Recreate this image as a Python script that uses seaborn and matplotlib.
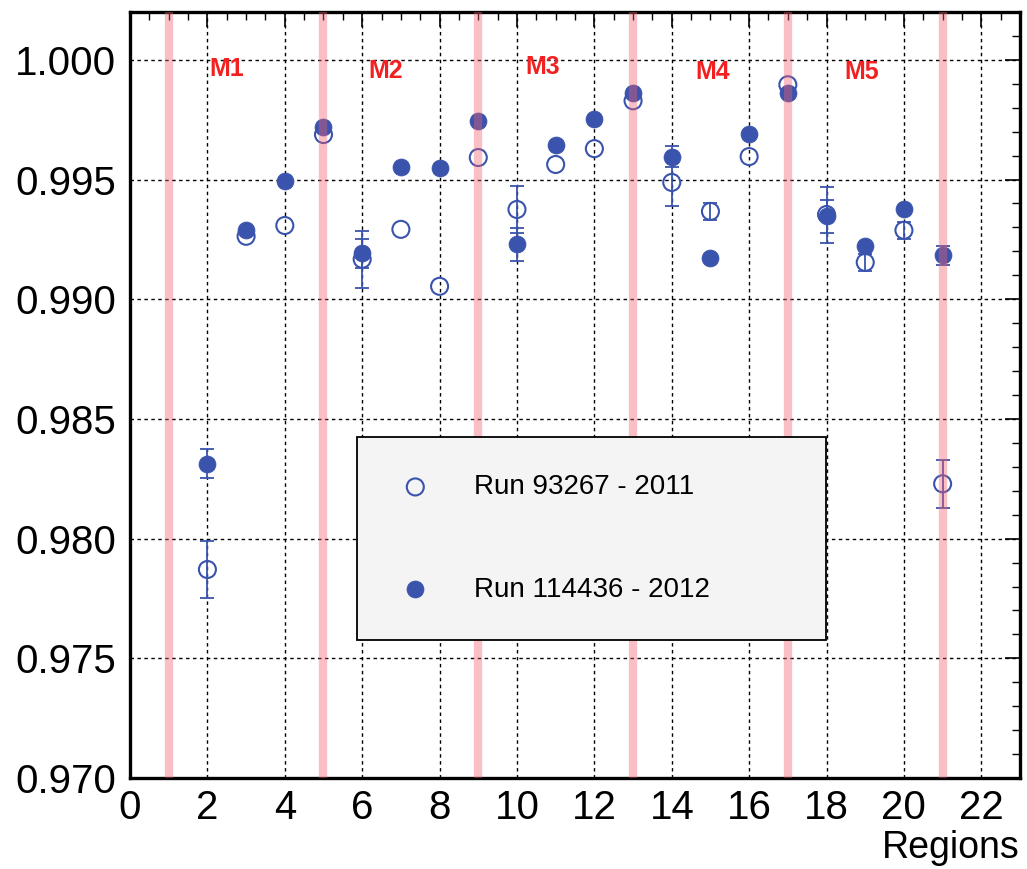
import matplotlib
matplotlib.use("Agg")
import matplotlib.pyplot as plt
from matplotlib.ticker import MultipleLocator, FormatStrFormatter
import seaborn as sns
import pandas as pd
import numpy as np

# ---------------- data ----------------
regions = [2, 3, 4, 5, 6, 7, 8, 9, 10, 11, 12, 13, 14, 15, 16, 17, 18, 19, 20, 21]
eff_2011 = [0.97871, 0.99263, 0.99308, 0.99688, 0.99167, 0.99292, 0.99054, 0.99592,
            0.99375, 0.99563, 0.99629, 0.99829, 0.99488, 0.99367, 0.99596, 0.99896,
            0.99354, 0.99154, 0.99288, 0.98229]
err_2011 = [0.0012, 0.0, 0.0, 0.0, 0.0012, 0.0, 0.0, 0.0,
            0.0010, 0.0, 0.0, 0.0, 0.0010, 0.00035, 0.0, 0.0,
            0.00117, 0.00035, 0.00035, 0.0010]
eff_2012 = [0.98313, 0.99288, 0.99492, 0.99721, 0.99192, 0.99554, 0.99550, 0.99746,
            0.99229, 0.99646, 0.99754, 0.99863, 0.99596, 0.99171, 0.99692, 0.99863,
            0.99346, 0.99221, 0.99379, 0.99183]
err_2012 = [0.0006, 0.0, 0.0, 0.0, 0.0006, 0.0, 0.0, 0.0,
            0.0007, 0.0, 0.0, 0.0, 0.00045, 0.0, 0.0, 0.0,
            0.0007, 0.0, 0.0, 0.0004]
label_2011 = "Run 93267 - 2011"
label_2012 = "Run 114436 - 2012"

module_boundaries = [1, 5, 9, 13, 17, 21]
module_names = ["M1", "M2", "M3", "M4", "M5"]
module_label_x = [2.5, 6.6, 10.67, 15.05, 18.9]
module_label_y = [0.99962, 0.99954, 0.99971, 0.9995, 0.9995]

x_label = "Regions"

# ---------------- style ----------------
sns.set_style("white")
plt.rcParams["font.family"] = ["Liberation Sans", "DejaVu Sans"]
plt.rcParams["text.color"] = "black"
plt.rcParams["axes.labelcolor"] = "black"
plt.rcParams["xtick.color"] = "black"
plt.rcParams["ytick.color"] = "black"

blue = "#3a53ad"

df11 = pd.DataFrame({"region": regions, "eff": eff_2011, "err": err_2011})
df12 = pd.DataFrame({"region": regions, "eff": eff_2012, "err": err_2012})

fig = plt.figure(figsize=(10.27, 8.69), dpi=100)
ax = fig.add_axes([0.1266, 0.1047, 0.8666, 0.8815])

# error bars
e11 = df11[df11["err"] > 0]
e12 = df12[df12["err"] > 0]
ax.errorbar(e11["region"], e11["eff"], yerr=e11["err"], fmt="none",
            ecolor=blue, elinewidth=1.3, capsize=5, capthick=1.3, zorder=3)
ax.errorbar(e12["region"], e12["eff"], yerr=e12["err"], fmt="none",
            ecolor=blue, elinewidth=1.3, capsize=5, capthick=1.3, zorder=3)

# markers
sns.scatterplot(data=df11, x="region", y="eff", ax=ax, marker="o", s=150,
                facecolor="white", edgecolor=blue, linewidth=1.5,
                label=label_2011, zorder=4)
sns.scatterplot(data=df12, x="region", y="eff", ax=ax, marker="o", s=150,
                color=blue, edgecolor=blue, linewidth=0.5,
                label=label_2012, zorder=5)
ax.collections[-2].set_facecolor("none")

# module boundaries
for b in module_boundaries:
    ax.axvline(b, color="#f06070", alpha=0.4, linewidth=6, zorder=6)

for name, mx, my in zip(module_names, module_label_x, module_label_y):
    ax.text(mx, my, name, color="#f22020", fontsize=18, fontweight="bold",
            ha="center", va="center", zorder=7)

ax.set_xlim(0, 23)
ax.set_ylim(0.970, 1.002)
ax.xaxis.set_major_locator(MultipleLocator(2))
ax.xaxis.set_minor_locator(MultipleLocator(0.5))
ax.yaxis.set_major_locator(MultipleLocator(0.005))
ax.yaxis.set_minor_locator(MultipleLocator(0.001))
ax.yaxis.set_major_formatter(FormatStrFormatter("%.3f"))

ax.grid(True, which="major", color="black", linestyle=(0, (2.5, 2.5)), linewidth=1.0, zorder=1)
ax.set_axisbelow(True)

ax.tick_params(which="both", direction="in", top=True, right=True, labelsize=29)
ax.tick_params(which="major", length=11, width=1.2)
ax.tick_params(which="minor", length=6, width=1.0)
ax.tick_params(axis="y", pad=10)
ax.tick_params(axis="x", pad=8)

for sp in ax.spines.values():
    sp.set_linewidth(2.4)
    sp.set_color("black")

ax.set_ylabel("")
ax.set_xlabel(x_label, fontsize=27, loc="right", labelpad=2)

leg = ax.legend(loc="lower left", bbox_to_anchor=(0.255, 0.180, 0.527, 0.268),
                mode="expand", fontsize=20, frameon=True, fancybox=False,
                facecolor="#f4f4f4", edgecolor="black", framealpha=1,
                borderpad=1.35, labelspacing=2.75, handlelength=1.5,
                handletextpad=1.36, borderaxespad=0)
leg.get_frame().set_linewidth(1.3)
leg.set_zorder(10)
leg.legend_handles[0].set_facecolor("none")
for t in leg.get_texts():
    t.set_color("black")

fig.savefig("out.png", dpi=100)
